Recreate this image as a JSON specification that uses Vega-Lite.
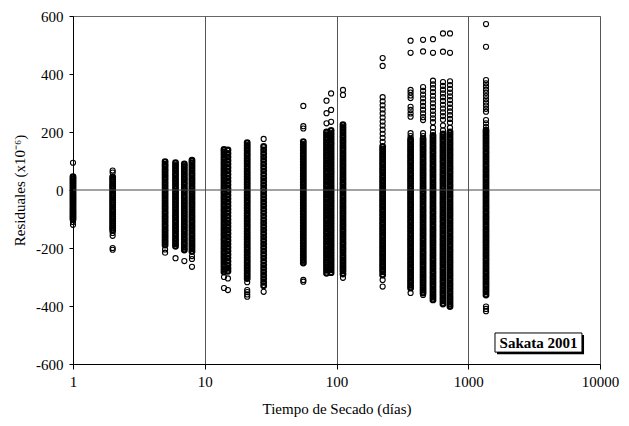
{
"$schema":"https://vega.github.io/schema/vega-lite/v6.json",
"width":527,"height":348,
"autosize":{"type":"none"},
"padding":{"left":73,"top":16,"right":29,"bottom":62},
"background":"white",
"config":{"view":{"stroke":"#666","strokeWidth":1},"font":"Liberation Serif"},
"datasets":{
"core":[
{"t":1,"r":46},{"t":1,"r":39},{"t":1,"r":32},{"t":1,"r":25},{"t":1,"r":18},{"t":1,"r":11},{"t":1,"r":4},{"t":1,"r":-3},{"t":1,"r":-10},{"t":1,"r":-17},{"t":1,"r":-24},{"t":1,"r":-31},{"t":1,"r":-38},{"t":1,"r":-45},{"t":1,"r":-52},{"t":1,"r":-59},{"t":1,"r":-66},{"t":1,"r":-73},{"t":1,"r":-80},{"t":1,"r":-87},{"t":1,"r":-94},{"t":1,"r":-101},
{"t":2,"r":45},{"t":2,"r":37},{"t":2,"r":29},{"t":2,"r":21},{"t":2,"r":13},{"t":2,"r":5},{"t":2,"r":-3},{"t":2,"r":-11},{"t":2,"r":-19},{"t":2,"r":-27},{"t":2,"r":-35},{"t":2,"r":-43},{"t":2,"r":-51},{"t":2,"r":-59},{"t":2,"r":-67},{"t":2,"r":-75},{"t":2,"r":-83},{"t":2,"r":-91},{"t":2,"r":-99},{"t":2,"r":-107},{"t":2,"r":-115},{"t":2,"r":-123},{"t":2,"r":-131},{"t":2,"r":-139},
{"t":5,"r":98},{"t":5,"r":89},{"t":5,"r":80},{"t":5,"r":71},{"t":5,"r":62},{"t":5,"r":53},{"t":5,"r":44},{"t":5,"r":35},{"t":5,"r":26},{"t":5,"r":17},{"t":5,"r":8},{"t":5,"r":-1},{"t":5,"r":-10},{"t":5,"r":-19},{"t":5,"r":-28},{"t":5,"r":-37},{"t":5,"r":-46},{"t":5,"r":-55},{"t":5,"r":-64},{"t":5,"r":-73},{"t":5,"r":-82},{"t":5,"r":-91},{"t":5,"r":-100},{"t":5,"r":-109},{"t":5,"r":-118},{"t":5,"r":-127},{"t":5,"r":-136},{"t":5,"r":-145},{"t":5,"r":-154},{"t":5,"r":-163},{"t":5,"r":-172},{"t":5,"r":-181},{"t":5,"r":-190},
{"t":6,"r":94},{"t":6,"r":85},{"t":6,"r":76},{"t":6,"r":67},{"t":6,"r":58},{"t":6,"r":49},{"t":6,"r":40},{"t":6,"r":31},{"t":6,"r":22},{"t":6,"r":13},{"t":6,"r":4},{"t":6,"r":-5},{"t":6,"r":-14},{"t":6,"r":-23},{"t":6,"r":-32},{"t":6,"r":-41},{"t":6,"r":-50},{"t":6,"r":-59},{"t":6,"r":-68},{"t":6,"r":-77},{"t":6,"r":-86},{"t":6,"r":-95},{"t":6,"r":-104},{"t":6,"r":-113},{"t":6,"r":-122},{"t":6,"r":-131},{"t":6,"r":-140},{"t":6,"r":-149},{"t":6,"r":-158},{"t":6,"r":-167},{"t":6,"r":-176},{"t":6,"r":-185},{"t":6,"r":-194},
{"t":7,"r":90},{"t":7,"r":81},{"t":7,"r":72},{"t":7,"r":63},{"t":7,"r":54},{"t":7,"r":45},{"t":7,"r":36},{"t":7,"r":27},{"t":7,"r":18},{"t":7,"r":9},{"t":7,"r":0},{"t":7,"r":-9},{"t":7,"r":-18},{"t":7,"r":-27},{"t":7,"r":-36},{"t":7,"r":-45},{"t":7,"r":-54},{"t":7,"r":-63},{"t":7,"r":-72},{"t":7,"r":-81},{"t":7,"r":-90},{"t":7,"r":-99},{"t":7,"r":-108},{"t":7,"r":-117},{"t":7,"r":-126},{"t":7,"r":-135},{"t":7,"r":-144},{"t":7,"r":-153},{"t":7,"r":-162},{"t":7,"r":-171},{"t":7,"r":-180},{"t":7,"r":-189},{"t":7,"r":-198},{"t":7,"r":-207},
{"t":8,"r":103},{"t":8,"r":94},{"t":8,"r":85},{"t":8,"r":76},{"t":8,"r":67},{"t":8,"r":58},{"t":8,"r":49},{"t":8,"r":40},{"t":8,"r":31},{"t":8,"r":22},{"t":8,"r":13},{"t":8,"r":4},{"t":8,"r":-5},{"t":8,"r":-14},{"t":8,"r":-23},{"t":8,"r":-32},{"t":8,"r":-41},{"t":8,"r":-50},{"t":8,"r":-59},{"t":8,"r":-68},{"t":8,"r":-77},{"t":8,"r":-86},{"t":8,"r":-95},{"t":8,"r":-104},{"t":8,"r":-113},{"t":8,"r":-122},{"t":8,"r":-131},{"t":8,"r":-140},{"t":8,"r":-149},{"t":8,"r":-158},{"t":8,"r":-167},{"t":8,"r":-176},{"t":8,"r":-185},{"t":8,"r":-194},{"t":8,"r":-203},{"t":8,"r":-212},
{"t":14,"r":140},{"t":14,"r":131},{"t":14,"r":122},{"t":14,"r":113},{"t":14,"r":104},{"t":14,"r":95},{"t":14,"r":86},{"t":14,"r":77},{"t":14,"r":68},{"t":14,"r":59},{"t":14,"r":50},{"t":14,"r":41},{"t":14,"r":32},{"t":14,"r":23},{"t":14,"r":14},{"t":14,"r":5},{"t":14,"r":-4},{"t":14,"r":-13},{"t":14,"r":-22},{"t":14,"r":-31},{"t":14,"r":-40},{"t":14,"r":-49},{"t":14,"r":-58},{"t":14,"r":-67},{"t":14,"r":-76},{"t":14,"r":-85},{"t":14,"r":-94},{"t":14,"r":-103},{"t":14,"r":-112},{"t":14,"r":-121},{"t":14,"r":-130},{"t":14,"r":-139},{"t":14,"r":-148},{"t":14,"r":-157},{"t":14,"r":-166},{"t":14,"r":-175},{"t":14,"r":-184},{"t":14,"r":-193},{"t":14,"r":-202},{"t":14,"r":-211},{"t":14,"r":-220},{"t":14,"r":-229},{"t":14,"r":-238},{"t":14,"r":-247},{"t":14,"r":-256},{"t":14,"r":-265},{"t":14,"r":-274},{"t":14,"r":-283},
{"t":15,"r":138},{"t":15,"r":126},{"t":15,"r":114},{"t":15,"r":102},{"t":15,"r":90},{"t":15,"r":78},{"t":15,"r":66},{"t":15,"r":54},{"t":15,"r":42},{"t":15,"r":30},{"t":15,"r":18},{"t":15,"r":6},{"t":15,"r":-6},{"t":15,"r":-18},{"t":15,"r":-30},{"t":15,"r":-42},{"t":15,"r":-54},{"t":15,"r":-66},{"t":15,"r":-78},{"t":15,"r":-90},{"t":15,"r":-102},{"t":15,"r":-114},{"t":15,"r":-126},{"t":15,"r":-138},{"t":15,"r":-150},{"t":15,"r":-162},{"t":15,"r":-174},{"t":15,"r":-186},{"t":15,"r":-198},{"t":15,"r":-210},{"t":15,"r":-222},{"t":15,"r":-234},{"t":15,"r":-246},{"t":15,"r":-258},{"t":15,"r":-270},{"t":15,"r":-280},
{"t":21,"r":163},{"t":21,"r":154},{"t":21,"r":145},{"t":21,"r":136},{"t":21,"r":127},{"t":21,"r":118},{"t":21,"r":109},{"t":21,"r":100},{"t":21,"r":91},{"t":21,"r":82},{"t":21,"r":73},{"t":21,"r":64},{"t":21,"r":55},{"t":21,"r":46},{"t":21,"r":37},{"t":21,"r":28},{"t":21,"r":19},{"t":21,"r":10},{"t":21,"r":1},{"t":21,"r":-8},{"t":21,"r":-17},{"t":21,"r":-26},{"t":21,"r":-35},{"t":21,"r":-44},{"t":21,"r":-53},{"t":21,"r":-62},{"t":21,"r":-71},{"t":21,"r":-80},{"t":21,"r":-89},{"t":21,"r":-98},{"t":21,"r":-107},{"t":21,"r":-116},{"t":21,"r":-125},{"t":21,"r":-134},{"t":21,"r":-143},{"t":21,"r":-152},{"t":21,"r":-161},{"t":21,"r":-170},{"t":21,"r":-179},{"t":21,"r":-188},{"t":21,"r":-197},{"t":21,"r":-206},{"t":21,"r":-215},{"t":21,"r":-224},{"t":21,"r":-233},{"t":21,"r":-242},{"t":21,"r":-251},{"t":21,"r":-260},{"t":21,"r":-269},{"t":21,"r":-278},{"t":21,"r":-287},{"t":21,"r":-296},{"t":21,"r":-305},
{"t":28,"r":150},{"t":28,"r":138},{"t":28,"r":126},{"t":28,"r":114},{"t":28,"r":102},{"t":28,"r":90},{"t":28,"r":78},{"t":28,"r":66},{"t":28,"r":54},{"t":28,"r":42},{"t":28,"r":30},{"t":28,"r":18},{"t":28,"r":6},{"t":28,"r":-6},{"t":28,"r":-18},{"t":28,"r":-30},{"t":28,"r":-42},{"t":28,"r":-54},{"t":28,"r":-66},{"t":28,"r":-78},{"t":28,"r":-90},{"t":28,"r":-102},{"t":28,"r":-114},{"t":28,"r":-126},{"t":28,"r":-138},{"t":28,"r":-150},{"t":28,"r":-162},{"t":28,"r":-174},{"t":28,"r":-186},{"t":28,"r":-198},{"t":28,"r":-210},{"t":28,"r":-222},{"t":28,"r":-234},{"t":28,"r":-246},{"t":28,"r":-258},{"t":28,"r":-270},{"t":28,"r":-282},{"t":28,"r":-294},{"t":28,"r":-306},{"t":28,"r":-318},{"t":28,"r":-330},
{"t":56,"r":167},{"t":56,"r":157},{"t":56,"r":147},{"t":56,"r":137},{"t":56,"r":127},{"t":56,"r":117},{"t":56,"r":107},{"t":56,"r":97},{"t":56,"r":87},{"t":56,"r":77},{"t":56,"r":67},{"t":56,"r":57},{"t":56,"r":47},{"t":56,"r":37},{"t":56,"r":27},{"t":56,"r":17},{"t":56,"r":7},{"t":56,"r":-3},{"t":56,"r":-13},{"t":56,"r":-23},{"t":56,"r":-33},{"t":56,"r":-43},{"t":56,"r":-53},{"t":56,"r":-63},{"t":56,"r":-73},{"t":56,"r":-83},{"t":56,"r":-93},{"t":56,"r":-103},{"t":56,"r":-113},{"t":56,"r":-123},{"t":56,"r":-133},{"t":56,"r":-143},{"t":56,"r":-153},{"t":56,"r":-163},{"t":56,"r":-173},{"t":56,"r":-183},{"t":56,"r":-193},{"t":56,"r":-203},{"t":56,"r":-213},{"t":56,"r":-223},{"t":56,"r":-233},{"t":56,"r":-243},{"t":56,"r":-252},
{"t":84,"r":200},{"t":84,"r":191},{"t":84,"r":182},{"t":84,"r":173},{"t":84,"r":164},{"t":84,"r":155},{"t":84,"r":146},{"t":84,"r":137},{"t":84,"r":128},{"t":84,"r":119},{"t":84,"r":110},{"t":84,"r":101},{"t":84,"r":92},{"t":84,"r":83},{"t":84,"r":74},{"t":84,"r":65},{"t":84,"r":56},{"t":84,"r":47},{"t":84,"r":38},{"t":84,"r":29},{"t":84,"r":20},{"t":84,"r":11},{"t":84,"r":2},{"t":84,"r":-7},{"t":84,"r":-16},{"t":84,"r":-25},{"t":84,"r":-34},{"t":84,"r":-43},{"t":84,"r":-52},{"t":84,"r":-61},{"t":84,"r":-70},{"t":84,"r":-79},{"t":84,"r":-88},{"t":84,"r":-97},{"t":84,"r":-106},{"t":84,"r":-115},{"t":84,"r":-124},{"t":84,"r":-133},{"t":84,"r":-142},{"t":84,"r":-151},{"t":84,"r":-160},{"t":84,"r":-169},{"t":84,"r":-178},{"t":84,"r":-187},{"t":84,"r":-196},{"t":84,"r":-205},{"t":84,"r":-214},{"t":84,"r":-223},{"t":84,"r":-232},{"t":84,"r":-241},{"t":84,"r":-250},{"t":84,"r":-259},{"t":84,"r":-268},{"t":84,"r":-277},{"t":84,"r":-287},
{"t":91,"r":205},{"t":91,"r":195},{"t":91,"r":185},{"t":91,"r":175},{"t":91,"r":165},{"t":91,"r":155},{"t":91,"r":145},{"t":91,"r":135},{"t":91,"r":125},{"t":91,"r":115},{"t":91,"r":105},{"t":91,"r":95},{"t":91,"r":85},{"t":91,"r":75},{"t":91,"r":65},{"t":91,"r":55},{"t":91,"r":45},{"t":91,"r":35},{"t":91,"r":25},{"t":91,"r":15},{"t":91,"r":5},{"t":91,"r":-5},{"t":91,"r":-15},{"t":91,"r":-25},{"t":91,"r":-35},{"t":91,"r":-45},{"t":91,"r":-55},{"t":91,"r":-65},{"t":91,"r":-75},{"t":91,"r":-85},{"t":91,"r":-95},{"t":91,"r":-105},{"t":91,"r":-115},{"t":91,"r":-125},{"t":91,"r":-135},{"t":91,"r":-145},{"t":91,"r":-155},{"t":91,"r":-165},{"t":91,"r":-175},{"t":91,"r":-185},{"t":91,"r":-195},{"t":91,"r":-205},{"t":91,"r":-215},{"t":91,"r":-225},{"t":91,"r":-235},{"t":91,"r":-245},{"t":91,"r":-255},{"t":91,"r":-265},{"t":91,"r":-275},{"t":91,"r":-285},
{"t":112,"r":225},{"t":112,"r":216},{"t":112,"r":207},{"t":112,"r":198},{"t":112,"r":189},{"t":112,"r":180},{"t":112,"r":171},{"t":112,"r":162},{"t":112,"r":153},{"t":112,"r":144},{"t":112,"r":135},{"t":112,"r":126},{"t":112,"r":117},{"t":112,"r":108},{"t":112,"r":99},{"t":112,"r":90},{"t":112,"r":81},{"t":112,"r":72},{"t":112,"r":63},{"t":112,"r":54},{"t":112,"r":45},{"t":112,"r":36},{"t":112,"r":27},{"t":112,"r":18},{"t":112,"r":9},{"t":112,"r":0},{"t":112,"r":-9},{"t":112,"r":-18},{"t":112,"r":-27},{"t":112,"r":-36},{"t":112,"r":-45},{"t":112,"r":-54},{"t":112,"r":-63},{"t":112,"r":-72},{"t":112,"r":-81},{"t":112,"r":-90},{"t":112,"r":-99},{"t":112,"r":-108},{"t":112,"r":-117},{"t":112,"r":-126},{"t":112,"r":-135},{"t":112,"r":-144},{"t":112,"r":-153},{"t":112,"r":-162},{"t":112,"r":-171},{"t":112,"r":-180},{"t":112,"r":-189},{"t":112,"r":-198},{"t":112,"r":-207},{"t":112,"r":-216},{"t":112,"r":-225},{"t":112,"r":-234},{"t":112,"r":-243},{"t":112,"r":-252},{"t":112,"r":-261},{"t":112,"r":-270},{"t":112,"r":-279},{"t":112,"r":-290},
{"t":224,"r":150},{"t":224,"r":141},{"t":224,"r":132},{"t":224,"r":123},{"t":224,"r":114},{"t":224,"r":105},{"t":224,"r":96},{"t":224,"r":87},{"t":224,"r":78},{"t":224,"r":69},{"t":224,"r":60},{"t":224,"r":51},{"t":224,"r":42},{"t":224,"r":33},{"t":224,"r":24},{"t":224,"r":15},{"t":224,"r":6},{"t":224,"r":-3},{"t":224,"r":-12},{"t":224,"r":-21},{"t":224,"r":-30},{"t":224,"r":-39},{"t":224,"r":-48},{"t":224,"r":-57},{"t":224,"r":-66},{"t":224,"r":-75},{"t":224,"r":-84},{"t":224,"r":-93},{"t":224,"r":-102},{"t":224,"r":-111},{"t":224,"r":-120},{"t":224,"r":-129},{"t":224,"r":-138},{"t":224,"r":-147},{"t":224,"r":-156},{"t":224,"r":-165},{"t":224,"r":-174},{"t":224,"r":-183},{"t":224,"r":-192},{"t":224,"r":-201},{"t":224,"r":-210},{"t":224,"r":-219},{"t":224,"r":-228},{"t":224,"r":-237},{"t":224,"r":-246},{"t":224,"r":-255},{"t":224,"r":-264},{"t":224,"r":-273},{"t":224,"r":-282},{"t":224,"r":-293},
{"t":365,"r":175},{"t":365,"r":166},{"t":365,"r":157},{"t":365,"r":148},{"t":365,"r":139},{"t":365,"r":130},{"t":365,"r":121},{"t":365,"r":112},{"t":365,"r":103},{"t":365,"r":94},{"t":365,"r":85},{"t":365,"r":76},{"t":365,"r":67},{"t":365,"r":58},{"t":365,"r":49},{"t":365,"r":40},{"t":365,"r":31},{"t":365,"r":22},{"t":365,"r":13},{"t":365,"r":4},{"t":365,"r":-5},{"t":365,"r":-14},{"t":365,"r":-23},{"t":365,"r":-32},{"t":365,"r":-41},{"t":365,"r":-50},{"t":365,"r":-59},{"t":365,"r":-68},{"t":365,"r":-77},{"t":365,"r":-86},{"t":365,"r":-95},{"t":365,"r":-104},{"t":365,"r":-113},{"t":365,"r":-122},{"t":365,"r":-131},{"t":365,"r":-140},{"t":365,"r":-149},{"t":365,"r":-158},{"t":365,"r":-167},{"t":365,"r":-176},{"t":365,"r":-185},{"t":365,"r":-194},{"t":365,"r":-203},{"t":365,"r":-212},{"t":365,"r":-221},{"t":365,"r":-230},{"t":365,"r":-239},{"t":365,"r":-248},{"t":365,"r":-257},{"t":365,"r":-266},{"t":365,"r":-275},{"t":365,"r":-284},{"t":365,"r":-293},{"t":365,"r":-302},{"t":365,"r":-311},{"t":365,"r":-320},{"t":365,"r":-329},{"t":365,"r":-338},
{"t":454,"r":176},{"t":454,"r":167},{"t":454,"r":158},{"t":454,"r":149},{"t":454,"r":140},{"t":454,"r":131},{"t":454,"r":122},{"t":454,"r":113},{"t":454,"r":104},{"t":454,"r":95},{"t":454,"r":86},{"t":454,"r":77},{"t":454,"r":68},{"t":454,"r":59},{"t":454,"r":50},{"t":454,"r":41},{"t":454,"r":32},{"t":454,"r":23},{"t":454,"r":14},{"t":454,"r":5},{"t":454,"r":-4},{"t":454,"r":-13},{"t":454,"r":-22},{"t":454,"r":-31},{"t":454,"r":-40},{"t":454,"r":-49},{"t":454,"r":-58},{"t":454,"r":-67},{"t":454,"r":-76},{"t":454,"r":-85},{"t":454,"r":-94},{"t":454,"r":-103},{"t":454,"r":-112},{"t":454,"r":-121},{"t":454,"r":-130},{"t":454,"r":-139},{"t":454,"r":-148},{"t":454,"r":-157},{"t":454,"r":-166},{"t":454,"r":-175},{"t":454,"r":-184},{"t":454,"r":-193},{"t":454,"r":-202},{"t":454,"r":-211},{"t":454,"r":-220},{"t":454,"r":-229},{"t":454,"r":-238},{"t":454,"r":-247},{"t":454,"r":-256},{"t":454,"r":-265},{"t":454,"r":-274},{"t":454,"r":-283},{"t":454,"r":-292},{"t":454,"r":-301},{"t":454,"r":-310},{"t":454,"r":-319},{"t":454,"r":-328},{"t":454,"r":-337},{"t":454,"r":-346},{"t":454,"r":-355},
{"t":540,"r":188},{"t":540,"r":179},{"t":540,"r":170},{"t":540,"r":161},{"t":540,"r":152},{"t":540,"r":143},{"t":540,"r":134},{"t":540,"r":125},{"t":540,"r":116},{"t":540,"r":107},{"t":540,"r":98},{"t":540,"r":89},{"t":540,"r":80},{"t":540,"r":71},{"t":540,"r":62},{"t":540,"r":53},{"t":540,"r":44},{"t":540,"r":35},{"t":540,"r":26},{"t":540,"r":17},{"t":540,"r":8},{"t":540,"r":-1},{"t":540,"r":-10},{"t":540,"r":-19},{"t":540,"r":-28},{"t":540,"r":-37},{"t":540,"r":-46},{"t":540,"r":-55},{"t":540,"r":-64},{"t":540,"r":-73},{"t":540,"r":-82},{"t":540,"r":-91},{"t":540,"r":-100},{"t":540,"r":-109},{"t":540,"r":-118},{"t":540,"r":-127},{"t":540,"r":-136},{"t":540,"r":-145},{"t":540,"r":-154},{"t":540,"r":-163},{"t":540,"r":-172},{"t":540,"r":-181},{"t":540,"r":-190},{"t":540,"r":-199},{"t":540,"r":-208},{"t":540,"r":-217},{"t":540,"r":-226},{"t":540,"r":-235},{"t":540,"r":-244},{"t":540,"r":-253},{"t":540,"r":-262},{"t":540,"r":-271},{"t":540,"r":-280},{"t":540,"r":-289},{"t":540,"r":-298},{"t":540,"r":-307},{"t":540,"r":-316},{"t":540,"r":-325},{"t":540,"r":-334},{"t":540,"r":-343},{"t":540,"r":-352},{"t":540,"r":-361},{"t":540,"r":-370},{"t":540,"r":-379},
{"t":643,"r":193},{"t":643,"r":184},{"t":643,"r":175},{"t":643,"r":166},{"t":643,"r":157},{"t":643,"r":148},{"t":643,"r":139},{"t":643,"r":130},{"t":643,"r":121},{"t":643,"r":112},{"t":643,"r":103},{"t":643,"r":94},{"t":643,"r":85},{"t":643,"r":76},{"t":643,"r":67},{"t":643,"r":58},{"t":643,"r":49},{"t":643,"r":40},{"t":643,"r":31},{"t":643,"r":22},{"t":643,"r":13},{"t":643,"r":4},{"t":643,"r":-5},{"t":643,"r":-14},{"t":643,"r":-23},{"t":643,"r":-32},{"t":643,"r":-41},{"t":643,"r":-50},{"t":643,"r":-59},{"t":643,"r":-68},{"t":643,"r":-77},{"t":643,"r":-86},{"t":643,"r":-95},{"t":643,"r":-104},{"t":643,"r":-113},{"t":643,"r":-122},{"t":643,"r":-131},{"t":643,"r":-140},{"t":643,"r":-149},{"t":643,"r":-158},{"t":643,"r":-167},{"t":643,"r":-176},{"t":643,"r":-185},{"t":643,"r":-194},{"t":643,"r":-203},{"t":643,"r":-212},{"t":643,"r":-221},{"t":643,"r":-230},{"t":643,"r":-239},{"t":643,"r":-248},{"t":643,"r":-257},{"t":643,"r":-266},{"t":643,"r":-275},{"t":643,"r":-284},{"t":643,"r":-293},{"t":643,"r":-302},{"t":643,"r":-311},{"t":643,"r":-320},{"t":643,"r":-329},{"t":643,"r":-338},{"t":643,"r":-347},{"t":643,"r":-356},{"t":643,"r":-365},{"t":643,"r":-374},{"t":643,"r":-383},{"t":643,"r":-393},
{"t":727,"r":200},{"t":727,"r":191},{"t":727,"r":182},{"t":727,"r":173},{"t":727,"r":164},{"t":727,"r":155},{"t":727,"r":146},{"t":727,"r":137},{"t":727,"r":128},{"t":727,"r":119},{"t":727,"r":110},{"t":727,"r":101},{"t":727,"r":92},{"t":727,"r":83},{"t":727,"r":74},{"t":727,"r":65},{"t":727,"r":56},{"t":727,"r":47},{"t":727,"r":38},{"t":727,"r":29},{"t":727,"r":20},{"t":727,"r":11},{"t":727,"r":2},{"t":727,"r":-7},{"t":727,"r":-16},{"t":727,"r":-25},{"t":727,"r":-34},{"t":727,"r":-43},{"t":727,"r":-52},{"t":727,"r":-61},{"t":727,"r":-70},{"t":727,"r":-79},{"t":727,"r":-88},{"t":727,"r":-97},{"t":727,"r":-106},{"t":727,"r":-115},{"t":727,"r":-124},{"t":727,"r":-133},{"t":727,"r":-142},{"t":727,"r":-151},{"t":727,"r":-160},{"t":727,"r":-169},{"t":727,"r":-178},{"t":727,"r":-187},{"t":727,"r":-196},{"t":727,"r":-205},{"t":727,"r":-214},{"t":727,"r":-223},{"t":727,"r":-232},{"t":727,"r":-241},{"t":727,"r":-250},{"t":727,"r":-259},{"t":727,"r":-268},{"t":727,"r":-277},{"t":727,"r":-286},{"t":727,"r":-295},{"t":727,"r":-304},{"t":727,"r":-313},{"t":727,"r":-322},{"t":727,"r":-331},{"t":727,"r":-340},{"t":727,"r":-349},{"t":727,"r":-358},{"t":727,"r":-367},{"t":727,"r":-376},{"t":727,"r":-385},{"t":727,"r":-394},{"t":727,"r":-402},
{"t":1364,"r":206},{"t":1364,"r":197},{"t":1364,"r":188},{"t":1364,"r":179},{"t":1364,"r":170},{"t":1364,"r":161},{"t":1364,"r":152},{"t":1364,"r":143},{"t":1364,"r":134},{"t":1364,"r":125},{"t":1364,"r":116},{"t":1364,"r":107},{"t":1364,"r":98},{"t":1364,"r":89},{"t":1364,"r":80},{"t":1364,"r":71},{"t":1364,"r":62},{"t":1364,"r":53},{"t":1364,"r":44},{"t":1364,"r":35},{"t":1364,"r":26},{"t":1364,"r":17},{"t":1364,"r":8},{"t":1364,"r":-1},{"t":1364,"r":-10},{"t":1364,"r":-19},{"t":1364,"r":-28},{"t":1364,"r":-37},{"t":1364,"r":-46},{"t":1364,"r":-55},{"t":1364,"r":-64},{"t":1364,"r":-73},{"t":1364,"r":-82},{"t":1364,"r":-91},{"t":1364,"r":-100},{"t":1364,"r":-109},{"t":1364,"r":-118},{"t":1364,"r":-127},{"t":1364,"r":-136},{"t":1364,"r":-145},{"t":1364,"r":-154},{"t":1364,"r":-163},{"t":1364,"r":-172},{"t":1364,"r":-181},{"t":1364,"r":-190},{"t":1364,"r":-199},{"t":1364,"r":-208},{"t":1364,"r":-217},{"t":1364,"r":-226},{"t":1364,"r":-235},{"t":1364,"r":-244},{"t":1364,"r":-253},{"t":1364,"r":-262},{"t":1364,"r":-271},{"t":1364,"r":-280},{"t":1364,"r":-289},{"t":1364,"r":-298},{"t":1364,"r":-307},{"t":1364,"r":-316},{"t":1364,"r":-325},{"t":1364,"r":-334},{"t":1364,"r":-343},{"t":1364,"r":-352},{"t":1364,"r":-362}
],
"sparse":[
{"t":1,"r":94},{"t":1,"r":-110},{"t":1,"r":-120},
{"t":2,"r":67},{"t":2,"r":60},{"t":2,"r":-148},{"t":2,"r":-158},{"t":2,"r":-200},{"t":2,"r":-206},
{"t":5,"r":-205},{"t":5,"r":-216},
{"t":6,"r":-235},
{"t":7,"r":-245},
{"t":8,"r":-228},{"t":8,"r":-238},{"t":8,"r":-265},
{"t":14,"r":-300},{"t":14,"r":-338},
{"t":15,"r":-305},{"t":15,"r":-345},
{"t":21,"r":-318},{"t":21,"r":-345},{"t":21,"r":-352},{"t":21,"r":-360},{"t":21,"r":-368},
{"t":28,"r":176},{"t":28,"r":-351},
{"t":56,"r":290},{"t":56,"r":220},{"t":56,"r":212},{"t":56,"r":-310},{"t":56,"r":-316},
{"t":84,"r":308},{"t":84,"r":265},{"t":84,"r":230},
{"t":91,"r":333},{"t":91,"r":276},{"t":91,"r":235},
{"t":112,"r":345},{"t":112,"r":328},{"t":112,"r":-303},
{"t":224,"r":455},{"t":224,"r":428},{"t":224,"r":320},{"t":224,"r":306},{"t":224,"r":292},{"t":224,"r":278},{"t":224,"r":264},{"t":224,"r":250},{"t":224,"r":236},{"t":224,"r":222},{"t":224,"r":208},{"t":224,"r":194},{"t":224,"r":180},{"t":224,"r":166},{"t":224,"r":-310},{"t":224,"r":-333},
{"t":365,"r":515},{"t":365,"r":473},{"t":365,"r":345},{"t":365,"r":336},{"t":365,"r":326},{"t":365,"r":317},{"t":365,"r":287},{"t":365,"r":276},{"t":365,"r":264},{"t":365,"r":253},{"t":365,"r":196},{"t":365,"r":186},{"t":365,"r":-355},
{"t":454,"r":518},{"t":454,"r":478},{"t":454,"r":355},{"t":454,"r":342},{"t":454,"r":329},{"t":454,"r":316},{"t":454,"r":303},{"t":454,"r":290},{"t":454,"r":277},{"t":454,"r":264},{"t":454,"r":251},{"t":454,"r":241},{"t":454,"r":196},{"t":454,"r":186},{"t":454,"r":-362},
{"t":540,"r":520},{"t":540,"r":473},{"t":540,"r":377},{"t":540,"r":364},{"t":540,"r":351},{"t":540,"r":338},{"t":540,"r":325},{"t":540,"r":312},{"t":540,"r":299},{"t":540,"r":286},{"t":540,"r":273},{"t":540,"r":260},{"t":540,"r":247},{"t":540,"r":234},{"t":540,"r":215},{"t":540,"r":200},
{"t":643,"r":540},{"t":643,"r":477},{"t":643,"r":372},{"t":643,"r":359},{"t":643,"r":346},{"t":643,"r":333},{"t":643,"r":320},{"t":643,"r":307},{"t":643,"r":294},{"t":643,"r":281},{"t":643,"r":268},{"t":643,"r":255},{"t":643,"r":242},{"t":643,"r":222},{"t":643,"r":206},
{"t":727,"r":540},{"t":727,"r":473},{"t":727,"r":375},{"t":727,"r":362},{"t":727,"r":349},{"t":727,"r":336},{"t":727,"r":323},{"t":727,"r":310},{"t":727,"r":297},{"t":727,"r":284},{"t":727,"r":271},{"t":727,"r":258},{"t":727,"r":245},{"t":727,"r":232},{"t":727,"r":215},
{"t":1364,"r":572},{"t":1364,"r":494},{"t":1364,"r":379},{"t":1364,"r":368},{"t":1364,"r":357},{"t":1364,"r":346},{"t":1364,"r":335},{"t":1364,"r":324},{"t":1364,"r":313},{"t":1364,"r":302},{"t":1364,"r":291},{"t":1364,"r":280},{"t":1364,"r":270},{"t":1364,"r":241},{"t":1364,"r":230},{"t":1364,"r":218},{"t":1364,"r":-402},{"t":1364,"r":-410},{"t":1364,"r":-418}
]},
"layer":[
{"data":{"name":"core"},
 "mark":{"type":"point","shape":"circle","filled":false,"color":"black","strokeWidth":2.2,"size":22,"opacity":1},
 "encoding":{
  "x":{"field":"t","type":"quantitative","scale":{"type":"log","domain":[1,10000],"nice":false},
   "axis":{"title":"Tiempo de Secado (días)","values":[1,10,100,1000,10000],"format":"d","grid":true,"gridColor":"#555","gridOpacity":1,"domainColor":"black","tickColor":"black","tickSize":5,"labelFont":"Liberation Serif","labelFontSize":15,"labelColor":"black","labelPadding":5,"labelFlush":false,"labelOverlap":false,"titleFont":"Liberation Serif","titleFontSize":15,"titleFontWeight":"normal","titleColor":"black","titlePadding":12}},
  "y":{"field":"r","type":"quantitative","scale":{"domain":[-600,600],"nice":false,"zero":false},
   "axis":{"title":"Residuales (x10⁻⁶)","values":[-600,-400,-200,0,200,400,600],"labelExpr":"'' + datum.value","grid":false,"domainColor":"black","tickColor":"black","tickSize":4,"labelFont":"Liberation Serif","labelFontSize":15,"labelColor":"black","labelPadding":6,"labelFlush":false,"labelOverlap":false,"titleFont":"Liberation Serif","titleFontSize":15,"titleFontWeight":"normal","titleColor":"black","titlePadding":8}}
 }},
{"data":{"name":"sparse"},
 "mark":{"type":"point","shape":"circle","filled":false,"color":"black","strokeWidth":1.1,"size":26,"opacity":1},
 "encoding":{"x":{"field":"t","type":"quantitative"},"y":{"field":"r","type":"quantitative"}}},
{"data":{"values":[{}]},
 "mark":{"type":"rule","color":"#444","strokeWidth":1},
 "encoding":{"y":{"datum":0}}},
{"data":{"values":[{}]},
 "mark":{"type":"rect","color":"black"},
 "encoding":{"x":{"datum":1653},"x2":{"datum":7565},"y":{"datum":-500},"y2":{"datum":-566}}},
{"data":{"values":[{}]},
 "mark":{"type":"rect","fill":"white","stroke":"black","strokeWidth":1},
 "encoding":{"x":{"datum":1596},"x2":{"datum":7295},"y":{"datum":-493},"y2":{"datum":-559}}},
{"data":{"values":[{}]},
 "mark":{"type":"text","text":"Sakata 2001","font":"Liberation Serif","fontSize":15,"fontWeight":"bold","color":"black","align":"center","baseline":"middle"},
 "encoding":{"x":{"datum":3415},"y":{"datum":-528}}}
]
}
